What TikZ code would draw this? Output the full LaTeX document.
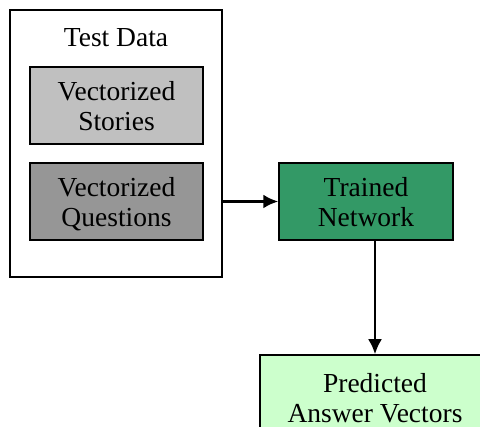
\documentclass[tikz,border=0pt]{standalone}
\usepackage{fontspec}
\setmainfont{Liberation Serif}
\usepackage{tikz}
\usetikzlibrary{arrows.meta}
\definecolor{lightgray}{HTML}{C0C0C0}
\definecolor{midgray}{HTML}{969696}
\definecolor{netgreen}{HTML}{339966}
\definecolor{palegreen}{HTML}{CCFFCC}
\tikzstyle{container} = [rectangle, minimum width=212pt, minimum height=267pt, draw=black, line width=1.5pt]
\tikzstyle{data} = [rectangle, minimum width=173pt, minimum height=77pt, text centered, align=center, text depth=0pt, draw=black, line width=1.5pt]
\tikzstyle{stories} = [data, fill=lightgray]
\tikzstyle{questions} = [data, fill=midgray]
\tikzstyle{network} = [data, minimum width=174pt, fill=netgreen]
\tikzstyle{output} = [data, minimum width=230pt, minimum height=86pt, fill=palegreen]
\tikzstyle{arrow} = [line width=2.5pt, -{Latex[length=15pt,width=14pt]}]

\begin{document}
\begin{tikzpicture}[x=1pt, y=-1pt, font=\fontsize{27.5}{30}\selectfont]

    \useasboundingbox (0,0) rectangle (480,427);
    \clip (0,0) rectangle (480,427);

    \node(testdata)[container] at (116,143.5) {};
    \node(title) at (116,38) {Test Data};
    \node(stories)[stories] at (116.5,105.5) {Vectorized\\Stories};
    \node(questions)[questions] at (116.5,201.5) {Vectorized\\Questions};

    \node(network)[network] at (366,201.5) {Trained\\Network};
    \node(answers)[output] at (375,398) {Predicted\\Answer Vectors};

    \draw[arrow] (testdata.east |- network.west) -- (network.west);
    \draw[arrow] (answers.north |- network.south) -- (answers.north);

\end{tikzpicture}
\end{document}
